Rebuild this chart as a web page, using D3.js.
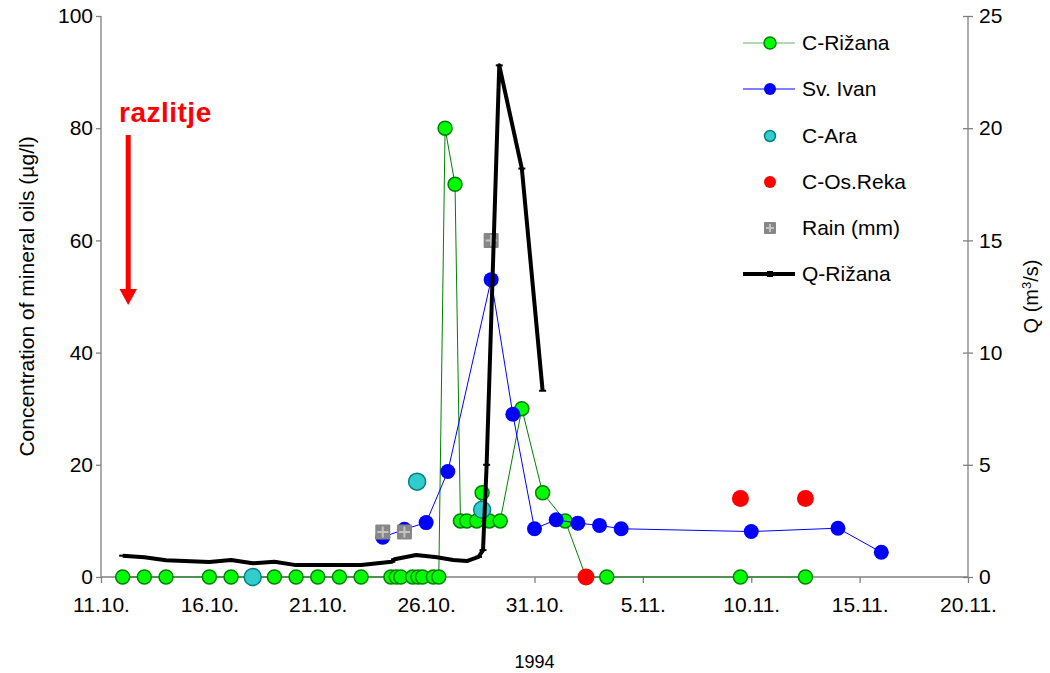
<!DOCTYPE html>
<html>
<head>
<meta charset="utf-8">
<script src="https://cdn.jsdelivr.net/npm/d3@7"></script>
<style>
  html, body { margin: 0; padding: 0; background: #fff; }
  svg { display: block; font-family: Arial, "Liberation Sans", sans-serif; }
</style>
</head>
<body>
<svg id="chart" width="1050" height="673"></svg>
<script>
// Mineral-oil concentrations at sampling points and Rižana discharge, autumn 1994
const parse = d3.timeParse("%Y-%m-%d %H:%M");

// C-Rižana (µg/l)
const rizanaDates = [
  "1994-10-12 00:00","1994-10-13 00:00","1994-10-14 00:00","1994-10-16 00:00","1994-10-17 00:00",
  "1994-10-18 00:00","1994-10-19 00:00","1994-10-20 00:00","1994-10-21 00:00","1994-10-22 00:00",
  "1994-10-23 00:00","1994-10-24 09:00","1994-10-24 15:00","1994-10-24 20:00","1994-10-25 09:00",
  "1994-10-25 15:00","1994-10-25 20:00","1994-10-26 08:00","1994-10-26 14:00","1994-10-26 21:00",
  "1994-10-27 08:00","1994-10-27 14:00","1994-10-27 21:00","1994-10-28 08:00","1994-10-28 14:00",
  "1994-10-28 22:00","1994-10-29 10:00","1994-10-30 10:00","1994-10-31 09:00","1994-11-01 10:00",
  "1994-11-02 09:00","1994-11-03 08:00","1994-11-09 12:00","1994-11-12 12:00"];
const rizanaValues = [0,0,0,0,0, 0,0,0,0,0, 0,0,0,0,0, 0,0,0,0,80, 70,10,10,10,15, 10,10,30,15,10, 0,0,0,0];

// Sv. Ivan (µg/l)
const ivanDates = [
  "1994-10-24 00:00","1994-10-25 00:00","1994-10-26 00:00","1994-10-27 00:00","1994-10-29 00:00",
  "1994-10-30 00:00","1994-10-31 00:00","1994-11-01 00:00","1994-11-02 00:00","1994-11-03 00:00",
  "1994-11-04 00:00","1994-11-10 00:00","1994-11-14 00:00","1994-11-16 00:00"];
const ivanValues = [7.1, 8.5, 9.7, 18.8, 53, 29, 8.6, 10.2, 9.6, 9.2, 8.6, 8.1, 8.7, 4.4];

// C-Ara (µg/l)
const araDates = ["1994-10-18 00:00","1994-10-25 14:00","1994-10-28 14:00"];
const araValues = [0, 17, 12];

// C-Os.Reka (µg/l)
const osrekaDates = ["1994-11-02 09:00","1994-11-09 12:00","1994-11-12 12:00"];
const osrekaValues = [0, 14, 14];

// Rain (mm), plotted on the left axis
const rainDates = ["1994-10-24 00:00","1994-10-25 00:00","1994-10-29 00:00"];
const rainValues = [8, 8, 60];

// Q-Rižana discharge (m³/s), right axis
const qDates = [
  "1994-10-12 00:00","1994-10-13 00:00","1994-10-14 00:00","1994-10-16 00:00","1994-10-17 00:00",
  "1994-10-18 00:00","1994-10-19 00:00","1994-10-20 00:00","1994-10-21 00:00","1994-10-22 00:00",
  "1994-10-23 00:00","1994-10-24 10:00","1994-10-24 13:00","1994-10-25 13:00","1994-10-26 12:00",
  "1994-10-27 06:00","1994-10-27 21:00","1994-10-28 10:00","1994-10-28 15:00","1994-10-28 19:00",
  "1994-10-29 09:00","1994-10-30 10:00","1994-10-31 09:00"];
const qValues = [0.95,0.88,0.75,0.67,0.76, 0.61,0.68,0.53,0.53,0.53, 0.53,0.68,0.79,0.98,0.88,
  0.76,0.71,0.9,1.2,5.0, 22.8,18.2,8.3];

// Axis ticks
const xTickDates = ["1994-10-11","1994-10-16","1994-10-21","1994-10-26","1994-10-31",
  "1994-11-05","1994-11-10","1994-11-15","1994-11-20"];
const yLeftTicks = [0, 20, 40, 60, 80, 100];
const yRightTicks = [0, 5, 10, 15, 20, 25];

(function draw() {
  const series = {
    rizana: rizanaDates.map((d, i) => ({ date: parse(d), v: rizanaValues[i] })),
    ivan: ivanDates.map((d, i) => ({ date: parse(d), v: ivanValues[i] })),
    ara: araDates.map((d, i) => ({ date: parse(d), v: araValues[i] })),
    osreka: osrekaDates.map((d, i) => ({ date: parse(d), v: osrekaValues[i] })),
    rain: rainDates.map((d, i) => ({ date: parse(d), v: rainValues[i] })),
    q: qDates.map((d, i) => ({ date: parse(d), v: qValues[i] }))
  };

  const svg = d3.select("#chart");
  const pL = 101, pR = 968, pT = 16, pB = 577;
  const FONT = 21;

  const tickParse = d3.timeParse("%Y-%m-%d");
  const xTicks = xTickDates.map(tickParse);
  const x = d3.scaleTime().domain([xTicks[0], xTicks[xTicks.length - 1]]).range([pL, pR]);
  const yL = d3.scaleLinear().domain([0, 100]).range([pB, pT]);
  const yR = d3.scaleLinear().domain([0, 25]).range([pB, pT]);

  const axisColor = "#808080";

  const gL = svg.append("g").attr("transform", `translate(${pL},0)`)
    .call(d3.axisLeft(yL).tickValues(yLeftTicks).tickSize(5).tickPadding(3));
  const gR = svg.append("g").attr("transform", `translate(${pR},0)`)
    .call(d3.axisRight(yR).tickValues(yRightTicks).tickSize(5).tickPadding(6));
  gR.selectAll(".tick line").attr("x1", -5);
  const fmt = d3.timeFormat("%-d.%-m.");
  const gX = svg.append("g").attr("transform", `translate(0,${pB})`)
    .call(d3.axisBottom(x).tickValues(xTicks).tickFormat(fmt).tickSize(6).tickPadding(14));

  [gL, gR, gX].forEach(g => {
    g.select(".domain").attr("stroke", axisColor).attr("stroke-width", 1.3);
    g.selectAll(".tick line").attr("stroke", axisColor).attr("stroke-width", 1.3);
    g.selectAll(".tick text").attr("fill", "#000").style("font-size", FONT + "px")
      .style("font-family", "Arial, 'Liberation Sans', sans-serif");
  });
  gL.select(".domain").attr("d", `M0,${pT}V${pB}`);
  gR.select(".domain").attr("d", `M0,${pT}V${pB}`);
  gX.select(".domain").attr("d", `M${pL},0H${pR}`);

  // Axis titles
  svg.append("text")
    .attr("transform", `translate(34,${(pT + pB) / 2}) rotate(-90)`)
    .attr("text-anchor", "middle")
    .style("font-size", "21px")
    .text("Concentration of mineral oils (µg/l)");
  svg.append("text")
    .attr("transform", `translate(1038,${(pT + pB) / 2}) rotate(-90)`)
    .attr("text-anchor", "middle")
    .style("font-size", "20px")
    .html("Q (m<tspan dy='-7' font-size='13'>3</tspan><tspan dy='7'>/s)</tspan>");
  svg.append("text")
    .attr("x", (pL + pR) / 2).attr("y", 668)
    .attr("text-anchor", "middle")
    .style("font-size", "18px")
    .text("1994");

  // Spill annotation
  svg.append("text")
    .attr("x", 119).attr("y", 122)
    .attr("fill", "#ff0000")
    .style("font-size", "28px").style("font-weight", "bold").style("letter-spacing", "0.5px")
    .text("razlitje");
  svg.append("rect").attr("x", 125.7).attr("y", 135).attr("width", 5).attr("height", 156).attr("fill", "#ff0000");
  svg.append("path").attr("d", "M119.5,289 L137,289 L128.2,305 Z").attr("fill", "#ff0000");

  const line = yScale => d3.line().x(d => x(d.date)).y(d => yScale(d.v));

  // C-Rižana
  svg.append("path").datum(series.rizana)
    .attr("d", line(yL)).attr("fill", "none").attr("stroke", "#008000").attr("stroke-width", 1);
  svg.append("g").selectAll("circle").data(series.rizana).join("circle")
    .attr("cx", d => x(d.date)).attr("cy", d => yL(d.v)).attr("r", 7)
    .attr("fill", "#00ff00").attr("stroke", "#008000").attr("stroke-width", 1.5);

  // Sv. Ivan
  svg.append("path").datum(series.ivan)
    .attr("d", line(yL)).attr("fill", "none").attr("stroke", "#0000ff").attr("stroke-width", 1);
  svg.append("g").selectAll("circle").data(series.ivan).join("circle")
    .attr("cx", d => x(d.date)).attr("cy", d => yL(d.v)).attr("r", 7.5)
    .attr("fill", "#0000ff");

  // C-Ara
  svg.append("g").selectAll("circle").data(series.ara).join("circle")
    .attr("cx", d => x(d.date)).attr("cy", d => yL(d.v)).attr("r", 8.5)
    .attr("fill", "#33cccc").attr("stroke", "#008080").attr("stroke-width", 1.5);

  // C-Os.Reka
  svg.append("g").selectAll("circle").data(series.osreka).join("circle")
    .attr("cx", d => x(d.date)).attr("cy", d => yL(d.v)).attr("r", 8.5)
    .attr("fill", "#ff0000");

  // Rain marker: grey square with a light cross
  function rainMarker(g, cx, cy, s) {
    const h = s / 2;
    g.append("rect").attr("x", cx - h).attr("y", cy - h).attr("width", s).attr("height", s)
      .attr("rx", 1).attr("fill", "#878787");
    g.append("path")
      .attr("d", `M${cx - h + 2},${cy}H${cx + h - 2}M${cx},${cy - h + 2}V${cy + h - 2}`)
      .attr("stroke", "#c4c4c4").attr("stroke-width", 2);
  }
  const gRain = svg.append("g");
  series.rain.forEach(d => rainMarker(gRain, x(d.date), yL(d.v), 15));

  // Q-Rižana
  svg.append("path").datum(series.q)
    .attr("d", line(yR)).attr("fill", "none").attr("stroke", "#000").attr("stroke-width", 4)
    .attr("stroke-linejoin", "round");
  svg.append("g").selectAll("path").data(series.q).join("path")
    .attr("d", d => `M${x(d.date) - 3.5},${yR(d.v)}H${x(d.date) + 3.5}`)
    .attr("stroke", "#000").attr("stroke-width", 2);

  // Legend
  const legend = svg.append("g");
  const lx0 = 743, lx1 = 795, lmx = 770, ltx = 802;
  const rows = [
    { label: "C-Rižana", y: 43 }, { label: "Sv. Ivan", y: 89 }, { label: "C-Ara", y: 136 },
    { label: "C-Os.Reka", y: 182 }, { label: "Rain (mm)", y: 228 }, { label: "Q-Rižana", y: 274 }
  ];
  rows.forEach(r => legend.append("text").attr("x", ltx).attr("y", r.y).attr("dy", "0.35em")
    .style("font-size", FONT + "px").text(r.label));
  legend.append("path").attr("d", `M${lx0},43H${lx1}`).attr("stroke", "#008000").attr("stroke-width", 1).attr("opacity", 0.6);
  legend.append("circle").attr("cx", lmx).attr("cy", 43).attr("r", 6).attr("fill", "#00ff00").attr("stroke", "#008000").attr("stroke-width", 1.5);
  legend.append("path").attr("d", `M${lx0},89H${lx1}`).attr("stroke", "#0000ff").attr("stroke-width", 1);
  legend.append("circle").attr("cx", lmx).attr("cy", 89).attr("r", 6).attr("fill", "#0000ff");
  legend.append("circle").attr("cx", lmx).attr("cy", 136).attr("r", 5.5).attr("fill", "#33cccc").attr("stroke", "#008080").attr("stroke-width", 1.5);
  legend.append("circle").attr("cx", lmx).attr("cy", 182).attr("r", 6).attr("fill", "#ff0000");
  rainMarker(legend, lmx, 228, 12);
  legend.append("path").attr("d", `M${lx0},274H${lx1}`).attr("stroke", "#000").attr("stroke-width", 4);
  legend.append("path").attr("d", `M${lmx - 3},274H${lmx + 3}`).attr("stroke", "#000").attr("stroke-width", 6);
})();
</script>
</body>
</html>
